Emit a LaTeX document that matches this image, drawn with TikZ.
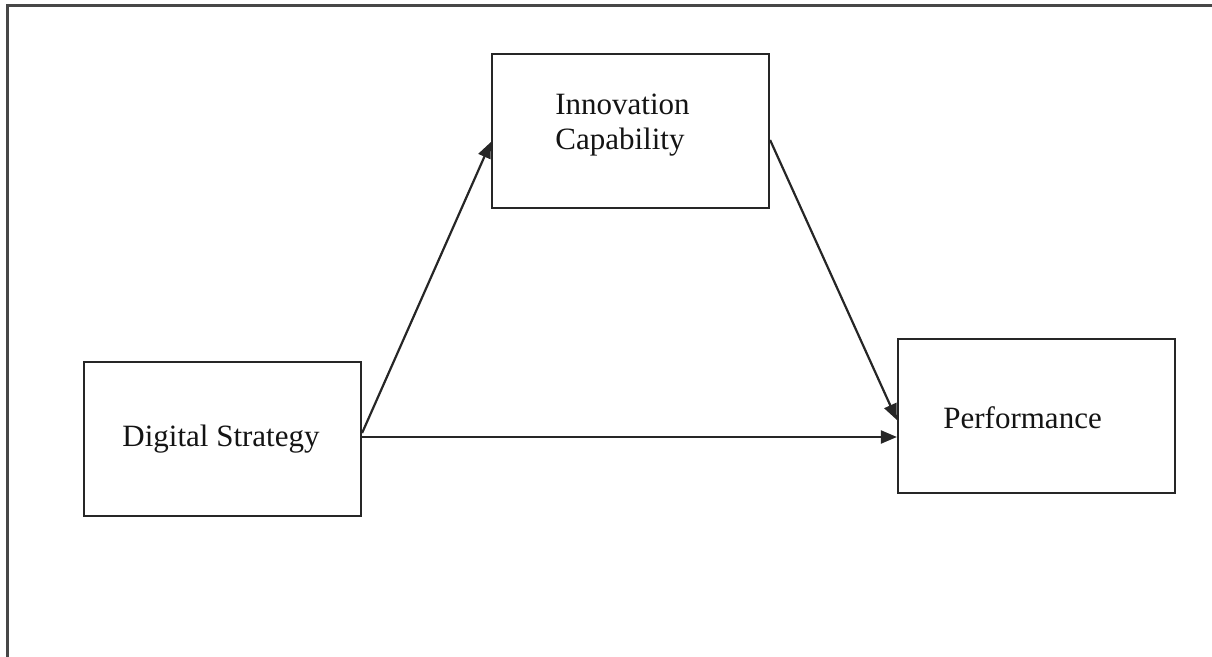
\documentclass[tikz,border=0pt]{standalone}
\usepackage{fontspec}
\setmainfont{Liberation Serif}
\usetikzlibrary{arrows.meta}
\begin{document}
\begin{tikzpicture}[x=0.5pt,y=-0.5pt,
  box/.style={draw=black!85, line width=1.1pt, inner sep=0pt, minimum width=138.5pt, minimum height=77pt},
  lbl/.style={inner sep=0pt, anchor=base west, text=black!92, font=\fontsize{15.5}{17.5}\selectfont},
  link/.style={draw=black!85, line width=1.1pt, -{Triangle[length=8pt,width=6.5pt]}},
  frameline/.style={draw=black!72, line width=1.5pt}
]
\useasboundingbox (0,0) rectangle (1212,657);
% page frame: top and left edges
\draw[frameline] (7,657) -- (7,6) -- (1212,6);

% boxes
\node[box] (ds) at (222.5,439) {};
\node[box] (ic) at (630.5,131) {};
\node[box] (pf) at (1036.5,416) {};

% labels
\node[lbl] (dst) at (122,447) {Digital Strategy};
\node[lbl] (ic1) at (555,115) {Innovation};
\node[lbl] (ic2) at (555,150) {Capability};
\node[lbl] (pft) at (943,429) {Performance};

% connectors
\draw[link] ([yshift=3pt]ds.east) -- ([yshift=-5.5pt]ic.west);
\draw[link] ([yshift=1pt]ds.east) coordinate (h) -- (h -| pf.west);
\draw[link] ([yshift=-4.5pt]ic.east) -- ([yshift=-2pt]pf.west);
\end{tikzpicture}
\end{document}
